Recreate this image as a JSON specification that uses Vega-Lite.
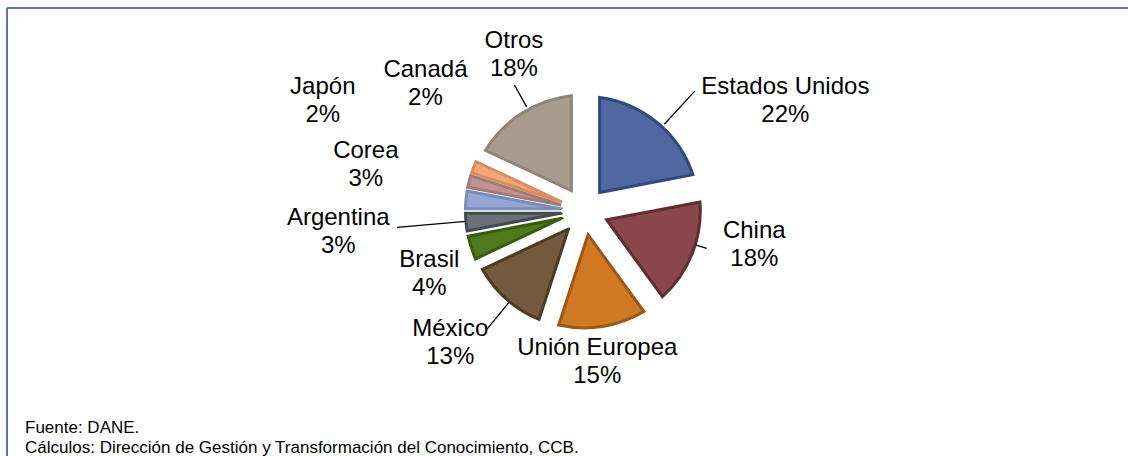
{
  "$schema": "https://vega.github.io/schema/vega-lite/v6.json",
  "width": 1121,
  "height": 448,
  "autosize": {"type": "none"},
  "padding": {"left": 7, "top": 8, "right": 0, "bottom": 0},
  "background": "white",
  "view": {"stroke": "#5A72B8", "strokeWidth": 2, "strokeDash": [1121, 1569, 448, 0]},
  "config": {
    "text": {"font": "Liberation Sans", "fontSize": 24, "lineHeight": 28, "lineBreak": "\n", "align": "center", "baseline": "middle", "color": "#000000", "dy": -12},
    "arc": {"strokeWidth": 3, "x": 577.3, "y": 203, "innerRadius": 24}
  },
  "title": {
    "text": ["Fuente: DANE.", "Cálculos: Dirección de Gestión y Transformación del Conocimiento, CCB."],
    "orient": "bottom", "anchor": "start", "frame": "group",
    "offset": -36, "dx": 18,
    "font": "Liberation Sans", "fontSize": 17, "fontWeight": "normal", "color": "#000000", "lineHeight": 20
  },
  "data": {
    "values": [
      {"pais": "Estados Unidos", "valor": 22, "etiqueta": "Estados Unidos\n22%"},
      {"pais": "China", "valor": 18, "etiqueta": "China\n18%"},
      {"pais": "Unión Europea", "valor": 15, "etiqueta": "Unión Europea\n15%"},
      {"pais": "México", "valor": 13, "etiqueta": "México\n13%"},
      {"pais": "Brasil", "valor": 4, "etiqueta": "Brasil\n4%"},
      {"pais": "Argentina", "valor": 3, "etiqueta": "Argentina\n3%"},
      {"pais": "Corea", "valor": 3, "etiqueta": "Corea\n3%"},
      {"pais": "Japón", "valor": 2, "etiqueta": "Japón\n2%"},
      {"pais": "Canadá", "valor": 2, "etiqueta": "Canadá\n2%"},
      {"pais": "Otros", "valor": 18, "etiqueta": "Otros\n18%"}
    ]
  },
  "transform": [{"stack": "valor", "groupby": [], "as": ["v0", "v1"]}],
  "layer": [
    {
      "transform": [{"filter": {"field": "pais", "equal": "Estados Unidos"}}],
      "layer": [
        {"mark": {"type": "arc", "padAngle": 0.26226, "outerRadius": 114.5, "fill": "#5067A1", "stroke": "#33497C"},
         "encoding": {"theta": {"field": "v0", "type": "quantitative", "scale": {"domain": [0, 100]}}, "theta2": {"field": "v1"}}},
        {"mark": {"type": "arc", "innerRadius": 118, "outerRadius": 163, "thetaOffset": 0.745, "theta2Offset": 0.745, "fill": null, "stroke": "#000000", "strokeWidth": 1.3},
         "encoding": {"theta": {"field": "v0", "type": "quantitative", "scale": {"domain": [0, 100]}}, "theta2": {"field": "v0"}}},
        {"mark": {"type": "text", "radius": 230.3, "thetaOffset": 1.0612, "x": 577.3, "y": 203},
         "encoding": {"theta": {"field": "v0", "type": "quantitative", "scale": {"domain": [0, 100]}}, "text": {"field": "etiqueta"}}}
      ]
    },
    {
      "transform": [{"filter": {"field": "pais", "equal": "China"}}],
      "layer": [
        {"mark": {"type": "arc", "padAngle": 0.21757, "outerRadius": 116, "fill": "#8A474B", "stroke": "#5E2E31"},
         "encoding": {"theta": {"field": "v0", "type": "quantitative", "scale": {"domain": [0, 100]}}, "theta2": {"field": "v1"}}},
        {"mark": {"type": "arc", "innerRadius": 117, "outerRadius": 128, "thetaOffset": 0.4852, "theta2Offset": 0.4852, "fill": null, "stroke": "#000000", "strokeWidth": 1.3},
         "encoding": {"theta": {"field": "v0", "type": "quantitative", "scale": {"domain": [0, 100]}}, "theta2": {"field": "v0"}}},
        {"mark": {"type": "text", "radius": 172.9, "thetaOffset": 0.3718, "x": 577.3, "y": 203},
         "encoding": {"theta": {"field": "v0", "type": "quantitative", "scale": {"domain": [0, 100]}}, "text": {"field": "etiqueta"}}}
      ]
    },
    {
      "transform": [{"filter": {"field": "pais", "equal": "Unión Europea"}}],
      "layer": [
        {"mark": {"type": "arc", "padAngle": 0.18288, "outerRadius": 116.9, "fill": "#D07822", "stroke": "#9A5718"},
         "encoding": {"theta": {"field": "v0", "type": "quantitative", "scale": {"domain": [0, 100]}}, "theta2": {"field": "v1"}}},
        {"mark": {"type": "text", "radius": 149.1, "thetaOffset": 0.5411, "x": 577.3, "y": 203},
         "encoding": {"theta": {"field": "v0", "type": "quantitative", "scale": {"domain": [0, 100]}}, "text": {"field": "etiqueta"}}}
      ]
    },
    {
      "transform": [{"filter": {"field": "pais", "equal": "México"}}],
      "layer": [
        {"mark": {"type": "arc", "padAngle": 0.15921, "outerRadius": 117.4, "fill": "#735A3C", "stroke": "#4D3A25"},
         "encoding": {"theta": {"field": "v0", "type": "quantitative", "scale": {"domain": [0, 100]}}, "theta2": {"field": "v1"}}},
        {"mark": {"type": "arc", "innerRadius": 119, "outerRadius": 153, "thetaOffset": 0.3752, "theta2Offset": 0.3752, "fill": null, "stroke": "#000000", "strokeWidth": 1.3},
         "encoding": {"theta": {"field": "v0", "type": "quantitative", "scale": {"domain": [0, 100]}}, "theta2": {"field": "v0"}}},
        {"mark": {"type": "text", "radius": 187.0, "thetaOffset": 0.4852, "x": 577.3, "y": 203},
         "encoding": {"theta": {"field": "v0", "type": "quantitative", "scale": {"domain": [0, 100]}}, "text": {"field": "etiqueta"}}}
      ]
    },
    {
      "transform": [{"filter": {"field": "pais", "equal": "Brasil"}}],
      "layer": [
        {"mark": {"type": "arc", "padAngle": 0.04961, "outerRadius": 118.85, "fill": "#4F7A1C", "stroke": "#3A5C12"},
         "encoding": {"theta": {"field": "v0", "type": "quantitative", "scale": {"domain": [0, 100]}}, "theta2": {"field": "v1"}}},
        {"mark": {"type": "text", "radius": 166.6, "thetaOffset": 0.0646, "x": 577.3, "y": 203},
         "encoding": {"theta": {"field": "v0", "type": "quantitative", "scale": {"domain": [0, 100]}}, "text": {"field": "etiqueta"}}}
      ]
    },
    {
      "transform": [{"filter": {"field": "pais", "equal": "Argentina"}}],
      "layer": [
        {"mark": {"type": "arc", "padAngle": 0.03724, "outerRadius": 118.9, "fill": "#697276", "stroke": "#454C50"},
         "encoding": {"theta": {"field": "v0", "type": "quantitative", "scale": {"domain": [0, 100]}}, "theta2": {"field": "v1"}}},
        {"mark": {"type": "arc", "innerRadius": 119, "outerRadius": 188, "thetaOffset": 0.1012, "theta2Offset": 0.1012, "fill": null, "stroke": "#000000", "strokeWidth": 1.3},
         "encoding": {"theta": {"field": "v0", "type": "quantitative", "scale": {"domain": [0, 100]}}, "theta2": {"field": "v0"}}},
        {"mark": {"type": "text", "radius": 246.8, "thetaOffset": 0.1100, "x": 577.3, "y": 203},
         "encoding": {"theta": {"field": "v0", "type": "quantitative", "scale": {"domain": [0, 100]}}, "text": {"field": "etiqueta"}}}
      ]
    },
    {
      "transform": [{"filter": {"field": "pais", "equal": "Corea"}}],
      "layer": [
        {"mark": {"type": "arc", "padAngle": 0.03724, "outerRadius": 118.9, "fill": "#94A6D4", "stroke": "#7A8CB8"},
         "encoding": {"theta": {"field": "v0", "type": "quantitative", "scale": {"domain": [0, 100]}}, "theta2": {"field": "v1"}}},
        {"mark": {"type": "text", "radius": 223.6, "thetaOffset": 0.2147, "x": 577.3, "y": 203},
         "encoding": {"theta": {"field": "v0", "type": "quantitative", "scale": {"domain": [0, 100]}}, "text": {"field": "etiqueta"}}}
      ]
    },
    {
      "transform": [{"filter": {"field": "pais", "equal": "Japón"}}],
      "layer": [
        {"mark": {"type": "arc", "padAngle": 0.02484, "outerRadius": 118.95, "fill": "#C09494", "stroke": "#A27A7A"},
         "encoding": {"theta": {"field": "v0", "type": "quantitative", "scale": {"domain": [0, 100]}}, "theta2": {"field": "v1"}}},
        {"mark": {"type": "text", "radius": 284.3, "thetaOffset": 0.2147, "x": 577.3, "y": 203},
         "encoding": {"theta": {"field": "v0", "type": "quantitative", "scale": {"domain": [0, 100]}}, "text": {"field": "etiqueta"}}}
      ]
    },
    {
      "transform": [{"filter": {"field": "pais", "equal": "Canadá"}}],
      "layer": [
        {"mark": {"type": "arc", "padAngle": 0.02484, "outerRadius": 118.95, "fill": "#F3A878", "stroke": "#D88E60"},
         "encoding": {"theta": {"field": "v0", "type": "quantitative", "scale": {"domain": [0, 100]}}, "theta2": {"field": "v1"}}},
        {"mark": {"type": "text", "radius": 204.7, "thetaOffset": 0.3683, "x": 577.3, "y": 203},
         "encoding": {"theta": {"field": "v0", "type": "quantitative", "scale": {"domain": [0, 100]}}, "text": {"field": "etiqueta"}}}
      ]
    },
    {
      "transform": [{"filter": {"field": "pais", "equal": "Otros"}}],
      "layer": [
        {"mark": {"type": "arc", "padAngle": 0.21757, "outerRadius": 116, "fill": "#A89C90", "stroke": "#918478"},
         "encoding": {"theta": {"field": "v0", "type": "quantitative", "scale": {"domain": [0, 100]}}, "theta2": {"field": "v1"}}},
        {"mark": {"type": "arc", "innerRadius": 119, "outerRadius": 144, "thetaOffset": 0.6248, "theta2Offset": 0.6248, "fill": null, "stroke": "#000000", "strokeWidth": 1.3},
         "encoding": {"theta": {"field": "v0", "type": "quantitative", "scale": {"domain": [0, 100]}}, "theta2": {"field": "v0"}}},
        {"mark": {"type": "text", "radius": 173.0, "thetaOffset": 0.7121, "x": 577.3, "y": 203},
         "encoding": {"theta": {"field": "v0", "type": "quantitative", "scale": {"domain": [0, 100]}}, "text": {"field": "etiqueta"}}}
      ]
    }
  ]
}
